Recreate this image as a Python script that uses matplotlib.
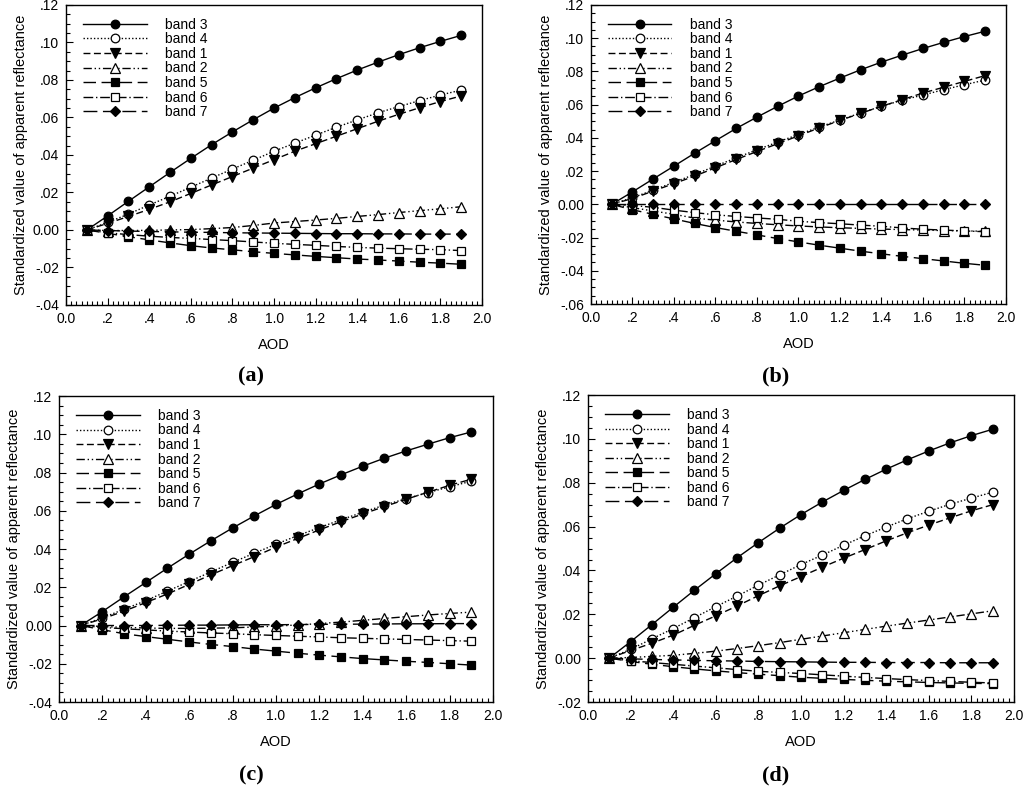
import numpy as np
import matplotlib
matplotlib.use('Agg')
import matplotlib.pyplot as plt
from matplotlib.ticker import MultipleLocator, FuncFormatter

plt.rcParams['font.family'] = ['Liberation Sans', 'DejaVu Sans']

aod = [0.1, 0.2, 0.3, 0.4, 0.5, 0.6, 0.7, 0.8, 0.9, 1.0,
       1.1, 1.2, 1.3, 1.4, 1.5, 1.6, 1.7, 1.8, 1.9]

band_names = ['band 3', 'band 4', 'band 1', 'band 2', 'band 5', 'band 6', 'band 7']

# panel (a)
a_b3 = [0, .0075, .0153, .023, .0307, .0382, .0455, .0523, .0588, .065, .0706, .0758, .0807, .0853, .0895, .0935, .0972, .1006, .1038]
a_b4 = [0, .004, .0085, .0133, .018, .0228, .0277, .0325, .0372, .042, .0463, .0506, .0548, .0587, .0625, .0658, .069, .072, .0746]
a_b1 = [0, .0035, .0072, .011, .015, .0195, .024, .0285, .033, .0375, .042, .046, .050, .054, .058, .0617, .0652, .0685, .0715]
a_b2 = [0, -.0003, -.0003, -.0002, 0, .0002, .0007, .0013, .0024, .0037, .0045, .0053, .0062, .0072, .0082, .0093, .0103, .0113, .0124]
a_b5 = [0, -.0018, -.0036, -.0053, -.0069, -.0084, -.0096, -.0106, -.0116, -.0125, -.0133, -.0141, -.0148, -.0155, -.016, -.0166, -.0172, -.0177, -.0183]
a_b6 = [0, -.0015, -.0025, -.0033, -.004, -.0045, -.0051, -.0057, -.0064, -.0071, -.0077, -.0082, -.0088, -.0093, -.0097, -.01, -.0103, -.0105, -.011]
a_b7 = [0, -.0003, -.0006, -.0008, -.001, -.0012, -.0013, -.0015, -.0016, -.0017, -.0018, -.0019, -.002, -.002, -.0021, -.0021, -.0022, -.0022, -.0022]

# panel (b)
b_b3 = [0, .0075, .0153, .023, .0308, .0383, .0457, .0525, .059, .0652, .0708, .076, .081, .0856, .0898, .0938, .0975, .101, .1042]
b_b4 = [0, .004, .0085, .0133, .018, .023, .028, .0328, .0375, .042, .0465, .0508, .055, .059, .0627, .0658, .069, .072, .0748]
b_b1 = [0, .0035, .008, .0125, .017, .022, .027, .0318, .0365, .0412, .046, .0505, .0548, .059, .063, .067, .0705, .074, .0775]
b_b2 = [0, -.002, -.004, -.006, -.0083, -.0095, -.0106, -.0115, -.0123, -.013, -.0136, -.0141, -.0145, -.0149, -.0152, -.0155, -.0158, -.016, -.0162]
b_b5 = [0, -.0033, -.006, -.0088, -.0115, -.014, -.0162, -.0184, -.0206, -.0226, -.0246, -.0264, -.0282, -.0298, -.0313, -.0327, -.0341, -.0355, -.0367]
b_b6 = [0, -.0007, -.0018, -.0035, -.005, -.0063, -.0073, -.0082, -.009, -.0102, -.011, -.0117, -.0125, -.0132, -.0142, -.015, -.0155, -.016, -.0165]
b_b7 = [0, 0, 0, 0, 0, 0, 0, 0, 0, 0, 0, 0, 0, 0, 0, 0, 0, 0, 0]

# panel (c)
c_b3 = [0, .0073, .015, .0225, .03, .0373, .0443, .051, .0573, .0633, .0688, .074, .0788, .0833, .0875, .0913, .0948, .0982, .1012]
c_b4 = [0, .004, .0085, .013, .018, .023, .028, .033, .0378, .0425, .047, .0512, .0553, .0592, .063, .0663, .0695, .0725, .0755]
c_b1 = [0, .0035, .0075, .012, .0165, .0215, .0265, .0313, .036, .041, .0455, .05, .0543, .0583, .0622, .066, .0697, .0733, .0765]
c_b2 = [0, -.0005, -.001, -.0013, -.0015, -.0015, -.0014, -.0012, -.0008, -.0003, .0003, .001, .0018, .0027, .0037, .0046, .0055, .0063, .007]
c_b5 = [0, -.0022, -.0043, -.0058, -.0072, -.0086, -.0099, -.011, -.0123, -.0134, -.0145, -.0155, -.0164, -.0173, -.018, -.0187, -.0193, -.02, -.0207]
c_b6 = [0, -.001, -.0017, -.0023, -.0029, -.0034, -.0039, -.0043, -.0048, -.0052, -.0056, -.006, -.0064, -.0067, -.007, -.0073, -.0076, -.0079, -.0082]
c_b7 = [0, 0, 0, 0, .0001, .0002, .0002, .0003, .0004, .0004, .0005, .0006, .0007, .0007, .0008, .0009, .0009, .001, .001]

# panel (d)
d_b3 = [0, .0075, .0153, .0232, .031, .0385, .0458, .0527, .0593, .0655, .0712, .0765, .0815, .0862, .0905, .0945, .0982, .1015, .1044]
d_b4 = [0, .004, .0088, .0135, .0185, .0235, .0283, .0333, .038, .0427, .047, .0515, .0558, .0598, .0636, .067, .0702, .073, .0757]
d_b1 = [0, .0035, .0068, .0105, .015, .0193, .0238, .0285, .033, .0372, .0415, .0456, .0495, .0535, .0572, .0607, .064, .0672, .07]
d_b2 = [0, .0003, .0008, .0013, .0022, .0032, .0044, .0057, .0071, .0086, .0101, .0116, .0131, .0146, .016, .0174, .0188, .0202, .0216]
d_b5 = [0, -.0015, -.0028, -.0039, -.0049, -.0058, -.0066, -.0073, -.008, -.0087, -.0092, -.0097, -.0101, -.0105, -.0108, -.0111, -.0113, -.0115, -.0116]
d_b6 = [0, -.0012, -.002, -.0028, -.0036, -.0044, -.0052, -.006, -.0065, -.007, -.0076, -.0082, -.0088, -.0093, -.0098, -.0102, -.0106, -.011, -.0113]
d_b7 = [0, -.0003, -.0006, -.0008, -.001, -.0012, -.0013, -.0015, -.0016, -.0017, -.0018, -.0019, -.0019, -.002, -.002, -.002, -.0021, -.0021, -.0021]

panels = [
    ('(a)', [a_b3, a_b4, a_b1, a_b2, a_b5, a_b6, a_b7], -0.04),
    ('(b)', [b_b3, b_b4, b_b1, b_b2, b_b5, b_b6, b_b7], -0.06),
    ('(c)', [c_b3, c_b4, c_b1, c_b2, c_b5, c_b6, c_b7], -0.04),
    ('(d)', [d_b3, d_b4, d_b1, d_b2, d_b5, d_b6, d_b7], -0.02),
]

# line style / marker for each band (same order as band_names)
styles = [
    dict(ls='-', marker='o', mfc='black'),
    dict(ls=(0, (1, 1.5)), marker='o', mfc='white'),
    dict(ls=(0, (5, 2.5)), marker='v', mfc='black'),
    dict(ls=(0, (6, 2, 1, 2, 1, 2)), marker='^', mfc='white'),
    dict(ls=(0, (9, 4)), marker='s', mfc='black'),
    dict(ls=(0, (7, 2, 1, 2)), marker='s', mfc='white'),
    dict(ls=(0, (10, 4)), marker='D', mfc='black'),
]

# axes boxes in figure fractions
boxes = [
    [0.0645, 0.6125, 0.4063, 0.3812],
    [0.5771, 0.6137, 0.4053, 0.3800],
    [0.0576, 0.1080, 0.4238, 0.3888],
    [0.5742, 0.1080, 0.4160, 0.3900],
]
label_pos = [(0.245, 0.521), (0.757, 0.521), (0.245, 0.015), (0.757, 0.015)]


def xfmt(v, pos):
    s = '%.1f' % v
    if s.startswith('0.') and s != '0.0':
        s = s[1:]
    return s


def yfmt(v, pos):
    if abs(v) < 1e-9:
        return '0.00'
    s = '%.2f' % v
    return s.replace('0.', '.', 1)


fig = plt.figure(figsize=(10.24, 7.87), dpi=100)

for i, (tag, series, ymin) in enumerate(panels):
    ax = fig.add_axes(boxes[i])
    for name, vals, st in zip(band_names, series, styles):
        ms = 5.5 if st['marker'] == 'D' else 6.2
        if st['marker'] in ('v', '^'):
            ms = 6.5
        ax.plot(aod, vals, color='black', lw=1.0, linestyle=st['ls'],
                marker=st['marker'], markersize=ms, markerfacecolor=st['mfc'],
                markeredgecolor='black', markeredgewidth=0.9, label=name)
    ax.set_xlim(0, 2.0)
    ax.set_ylim(ymin, 0.12)
    ax.xaxis.set_major_locator(MultipleLocator(0.2))
    ax.xaxis.set_minor_locator(MultipleLocator(0.025))
    ax.yaxis.set_major_locator(MultipleLocator(0.02))
    ax.yaxis.set_minor_locator(MultipleLocator(0.005))
    ax.xaxis.set_major_formatter(FuncFormatter(xfmt))
    ax.yaxis.set_major_formatter(FuncFormatter(yfmt))
    ax.tick_params(which='both', direction='in', top=False, right=False,
                   labelsize=10, width=0.8)
    ax.tick_params(which='major', length=5, pad=5)
    ax.tick_params(which='minor', length=3)
    for sp in ax.spines.values():
        sp.set_linewidth(1.0)
    ax.set_xlabel('AOD', fontsize=10.5, labelpad=9)
    ax.set_ylabel('Standardized value of apparent reflectance', fontsize=10.5, labelpad=3)
    ax.legend(loc='upper left', bbox_to_anchor=(0.02, 0.985), frameon=False,
              fontsize=10, handlelength=4.6, handletextpad=1.3,
              labelspacing=0.04, borderaxespad=0.2)
    fig.text(label_pos[i][0], label_pos[i][1], tag, fontsize=16, fontweight='bold',
             family='Liberation Serif', ha='center', va='center')

fig.savefig('out.png', dpi=100)
